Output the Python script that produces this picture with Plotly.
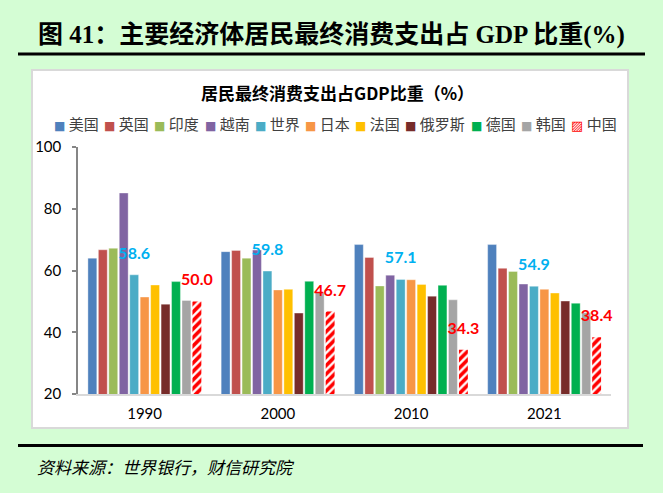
import plotly.graph_objects as go

# ---------------- data ----------------
years = ["1990", "2000", "2010", "2021"]
countries = ["美国", "英国", "印度", "越南", "世界", "日本", "法国", "俄罗斯", "德国", "韩国", "中国"]
us = [64.0, 66.1, 68.4, 68.4]
uk = [66.7, 66.5, 64.2, 60.7]
india = [67.2, 64.0, 55.0, 59.7]
vietnam = [85.1, 66.6, 58.5, 55.6]
world = [58.6, 59.8, 57.1, 54.9]
japan = [51.4, 53.7, 57.0, 53.9]
france = [55.3, 53.9, 55.5, 52.7]
russia = [49.1, 46.2, 51.7, 50.1]
germany = [56.4, 56.5, 55.2, 49.4]
korea = [50.3, 53.0, 50.5, 46.3]
china = [50.0, 46.7, 34.3, 38.4]
y_ticks = [20, 40, 60, 80, 100]

series = [us, uk, india, vietnam, world, japan, france, russia, germany, korea, china]
colors = ["#4F81BD", "#C0504D", "#9BBB59", "#8064A2", "#4BACC6", "#F79646",
          "#FFC000", "#772C2A", "#00B050", "#A5A5A5", "#FF0000"]
label_colors = {"世界": "#00B0F0", "中国": "#FF0000"}

# ---------------- geometry helpers ----------------
W, H = 663, 493
L, R, T, B = 78, 52, 147, 99
PW, PH = W - L - R, H - T - B


def px(x):
    return (x - L) / PW


def py(y):
    return (T + PH - y) / PH


fig = go.Figure()

for name, vals, col in zip(countries, series, colors):
    kw = {}
    if name in label_colors:
        kw["text"] = [
            "<span style='font-size:16px'><b>%.1f</b></span><br><span style='font-size:1px'> </span>" % v
            for v in vals
        ]
        kw["textposition"] = "outside"
        kw["textfont"] = dict(family="Lato, Arial, sans-serif", size=10, color=label_colors[name])
        kw["constraintext"] = "none"
        kw["cliponaxis"] = False
    if name == "中国":
        marker = dict(color="white",
                      pattern=dict(shape="/", fgcolor="#FF0000", bgcolor="white",
                                   size=6, solidity=0.6, fillmode="replace", fgopacity=1),
                      line=dict(width=0))
    else:
        marker = dict(color=col, line=dict(color="rgba(255,255,255,0.45)", width=0.8))
    fig.add_trace(go.Bar(x=years, y=vals, name=name, marker=marker, showlegend=False, **kw))

shapes = [
    # white chart frame
    dict(type="rect", xref="paper", yref="paper", x0=px(32), x1=px(628), y0=py(428), y1=py(70),
         fillcolor="white", line=dict(color="#D9D9D9", width=2), layer="below"),
    # top black rule
    dict(type="line", xref="paper", yref="paper", x0=px(18), x1=px(645), y0=py(54), y1=py(54),
         line=dict(color="black", width=3)),
    # bottom black rule
    dict(type="line", xref="paper", yref="paper", x0=px(18), x1=px(643), y0=py(445.5), y1=py(445.5),
         line=dict(color="black", width=3)),
]

annotations = [
    dict(text="<b>图 41：主要经济体居民最终消费支出占 GDP 比重(%)</b>", x=px(36), y=py(35),
         xref="paper", yref="paper", xanchor="left", yanchor="middle", showarrow=False,
         font=dict(family="Liberation Serif, Noto Sans CJK SC", size=25, color="black")),
    dict(text="<b>居民最终消费支出占GDP比重（%）</b>", x=px(337), y=py(92),
         xref="paper", yref="paper", xanchor="center", yanchor="middle", showarrow=False,
         font=dict(family="Noto Sans CJK SC", size=17, color="black")),
    dict(text="<i>资料来源：世界银行，财信研究院</i>", x=px(35), y=py(466),
         xref="paper", yref="paper", xanchor="left", yanchor="middle", showarrow=False,
         font=dict(family="Noto Sans CJK SC", size=17, color="black")),
]

# custom legend row
lx = 52
for name, col in zip(countries, colors):
    if name == "中国":
        sym = "<span style='font-family:DejaVu Sans;font-size:13px;color:%s'><b>▨</b></span>" % col
    else:
        sym = "<span style='font-family:DejaVu Sans;font-size:12px;color:%s'>■</span>" % col
    annotations.append(dict(text=sym + " " + name, x=px(lx), y=py(124), xref="paper", yref="paper",
                            xanchor="left", yanchor="middle", showarrow=False,
                            font=dict(family="Noto Sans CJK SC", size=15, color="#404040")))
    lx += 12 + 15.2 * len(name) + 7.8

fig.update_layout(
    width=W, height=H,
    margin=dict(l=L, r=R, t=T, b=B, pad=0, autoexpand=False),
    paper_bgcolor="#D4FDD4",
    plot_bgcolor="rgba(0,0,0,0)",
    barmode="group",
    bargap=0.137,
    bargroupgap=0.15,
    shapes=shapes,
    annotations=annotations,
    showlegend=False,
)
fig.update_xaxes(type="category", showline=True, linecolor="#D9D9D9", linewidth=2,
                 ticks="", showgrid=False, ticklabelstandoff=5,
                 tickfont=dict(family="Lato, Arial, sans-serif", size=15, color="black"))
fig.update_yaxes(range=[20, 100], tickvals=y_ticks, showgrid=False, zeroline=False,
                 showline=True, linecolor="#868686", linewidth=1.5,
                 ticks="outside", ticklen=4, tickcolor="#868686", tickwidth=1.5,
                 ticklabelstandoff=8,
                 tickfont=dict(family="Lato, Arial, sans-serif", size=15, color="black"))

fig.write_html("out.html", config={"displayModeBar": False},
               post_script="document.body.style.margin='0';")
